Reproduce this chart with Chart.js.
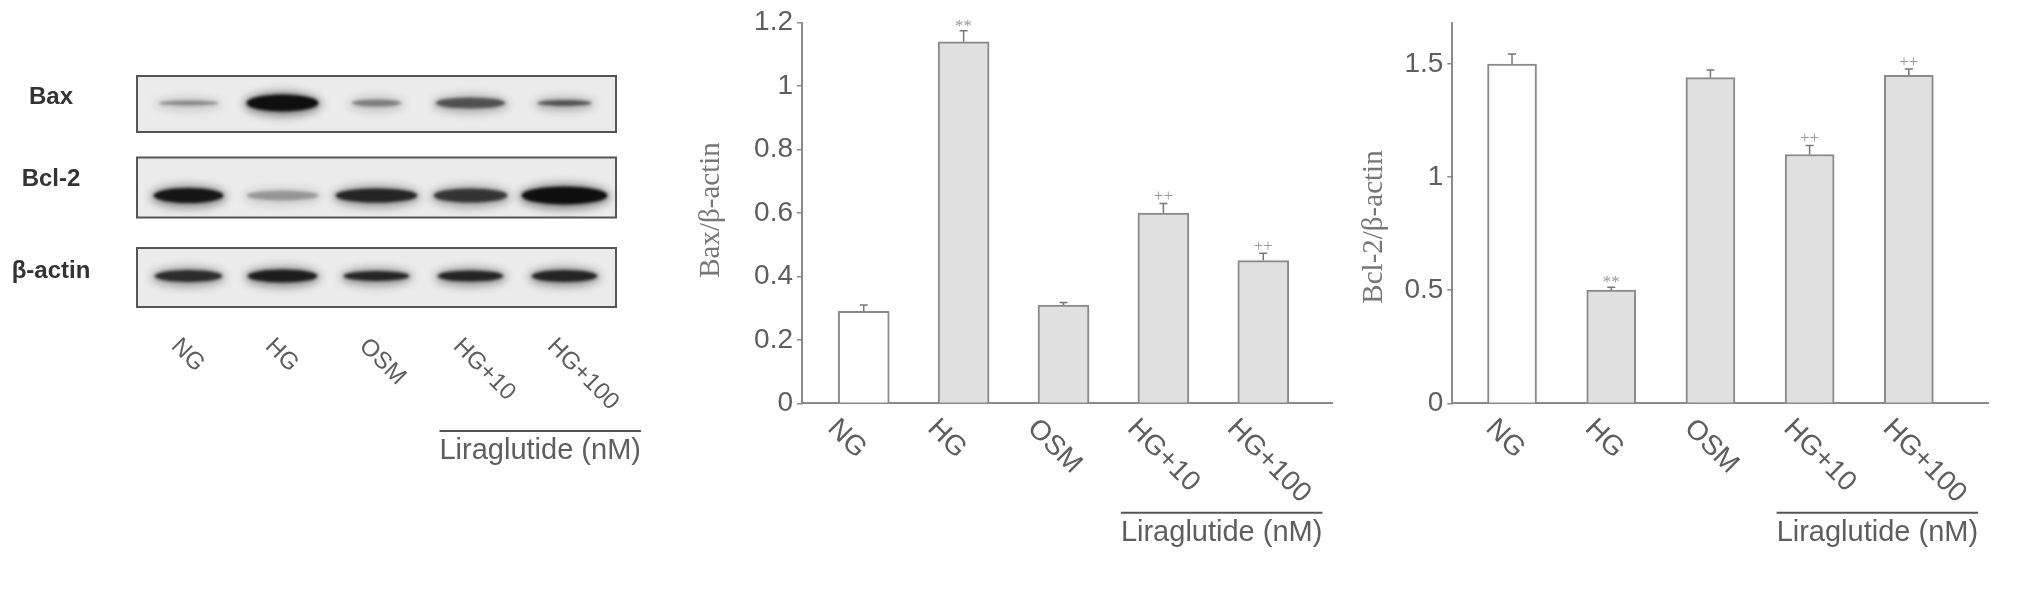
<!DOCTYPE html>
<html>
<head>
<meta charset="utf-8">
<script src="https://cdn.jsdelivr.net/npm/chart.js@4.4.0/dist/chart.umd.min.js"></script>
<style>
  html, body { margin: 0; padding: 0; background: #fff; }
  body { width: 2031px; height: 591px; position: relative; overflow: hidden; }
  canvas { position: absolute; top: 0; }
</style>
</head>
<body>
<canvas id="blotChart" width="660" height="591" style="left:0px"></canvas>
<canvas id="baxChart" width="660" height="591" style="left:690px"></canvas>
<canvas id="bcl2Chart" width="681" height="591" style="left:1350px"></canvas>
<script>
// groups on every panel
const groups = ["NG", "HG", "OSM", "HG+10", "HG+100"];
const treatedLabel = "Liraglutide (nM)";
const treatedFrom = 3; // HG+10 and HG+100

// Bax / beta-actin
const baxMean = [0.29, 1.14, 0.31, 0.60, 0.45];
const baxSem = [0.02, 0.035, 0.008, 0.03, 0.023];
const baxMarks = ["", "**", "", "++", "++"];
const baxTicks = [0, 0.2, 0.4, 0.6, 0.8, 1, 1.2];

// Bcl-2 / beta-actin
const bcl2Mean = [1.50, 0.50, 1.44, 1.10, 1.45];
const bcl2Sem = [0.044, 0.013, 0.033, 0.04, 0.028];
const bcl2Marks = ["", "**", "", "++", "++"];
const bcl2Ticks = [0, 0.5, 1, 1.5];

// western blot, band darkness 0..1
const blotRows = ["Bax", "Bcl-2", "β-actin"];
const baxBand = [0.35, 1.0, 0.4, 0.6, 0.6];
const bcl2Band = [0.95, 0.3, 0.85, 0.75, 1.0];
const actinBand = [0.8, 0.9, 0.85, 0.85, 0.85];

const SANS = "'Liberation Sans', Arial, sans-serif";
const SERIF = "'Liberation Serif', 'Times New Roman', serif";
const TEXT = "#5e5e5e";
const AXIS = "#8a8a8a";

// blot look (sizes are drawing style, not data)
const blotStyle = {
  frame: [[-27, 29], [-32, 28], [-28, 31]],
  bandDy: [0, 6, 0],
  labelDy: [-6, -10, -5],
  bandW: [[60, 72, 50, 70, 54], [70, 72, 82, 74, 86], [68, 70, 66, 66, 66]],
  bandH: [[5, 17, 7, 11, 6], [15, 10, 14, 14, 18], [12, 13, 10, 11, 12]]
};

function groupLabels(cfg) {
  return {
    id: "groupLabels",
    afterDraw(chart) {
      const ctx = chart.ctx;
      const xs = chart.scales.x;
      ctx.save();
      ctx.fillStyle = TEXT;
      ctx.font = cfg.size + "px " + SANS;
      groups.forEach((g, i) => {
        ctx.save();
        ctx.translate(xs.getPixelForValue(i) + cfg.dx, cfg.top);
        ctx.rotate(Math.PI / 4);
        ctx.textAlign = "left";
        ctx.textBaseline = "alphabetic";
        ctx.fillText(g, 0, cfg.size * 0.716);
        ctx.restore();
      });
      // bracket over the liraglutide groups
      ctx.font = "29px " + SANS;
      const w = ctx.measureText(treatedLabel).width;
      const x0 = xs.getPixelForValue(treatedFrom) + cfg.bracketDx;
      ctx.strokeStyle = "#555";
      ctx.lineWidth = 2;
      ctx.beginPath();
      ctx.moveTo(x0, cfg.lineY);
      ctx.lineTo(x0 + w, cfg.lineY);
      ctx.stroke();
      ctx.textAlign = "left";
      ctx.textBaseline = "alphabetic";
      ctx.fillText(treatedLabel, x0, cfg.lineY + 28);
      // y-axis title, rotated
      if (cfg.yTitle) {
        ctx.save();
        ctx.translate(cfg.yTitle.x, cfg.yTitle.y);
        ctx.rotate(-Math.PI / 2);
        ctx.fillStyle = "#777";
        ctx.font = "29px " + SERIF;
        ctx.textAlign = "center";
        ctx.textBaseline = "middle";
        ctx.fillText(cfg.yTitle.text, 0, 0);
        ctx.restore();
      }
      ctx.restore();
    }
  };
}

const errorBars = {
  id: "errorBars",
  afterDatasetsDraw(chart) {
    const ctx = chart.ctx;
    const y = chart.scales.y;
    const ds = chart.data.datasets[0];
    const meta = chart.getDatasetMeta(0);
    ctx.save();
    meta.data.forEach((bar, i) => {
      const top = y.getPixelForValue(ds.mean[i] + ds.err[i]);
      ctx.strokeStyle = "#777";
      ctx.lineWidth = 1.5;
      ctx.beginPath();
      ctx.moveTo(bar.x, bar.y);
      ctx.lineTo(bar.x, top);
      ctx.moveTo(bar.x - 4, top);
      ctx.lineTo(bar.x + 4, top);
      ctx.stroke();
      if (ds.marks[i]) {
        ctx.fillStyle = "#999";
        ctx.font = "17px " + SERIF;
        ctx.textAlign = "center";
        ctx.textBaseline = "alphabetic";
        ctx.fillText(ds.marks[i], bar.x, top - (ds.marks[i] === "**" ? 0 : 2));
      }
    });
    ctx.restore();
  }
};

function barChart(id, mean, sem, marks, ticks, opt) {
  new Chart(document.getElementById(id), {
    type: "bar",
    data: {
      datasets: [{
        data: mean.map((v, i) => ({ x: i, y: v })),
        mean: mean,
        err: sem,
        marks: marks,
        backgroundColor: groups.map((g, i) => (i === 0 ? "#ffffff" : "#e0e0e0")),
        borderColor: AXIS,
        borderWidth: 2,
        barThickness: opt.barWidth
      }]
    },
    options: {
      responsive: false,
      animation: false,
      layout: { padding: { left: 0, right: opt.padRight, top: opt.top, bottom: 591 - opt.bottom } },
      plugins: { legend: { display: false }, tooltip: { enabled: false } },
      scales: {
        x: {
          type: "linear",
          offset: false,
          min: opt.xMin,
          max: opt.xMax,
          afterFit: (s) => { s.height = 0; },
          ticks: { display: false },
          grid: { display: false, offset: false },
          border: { color: AXIS, width: 2 }
        },
        y: {
          type: "linear",
          min: 0,
          max: opt.yMax,
          afterBuildTicks: (axis) => { axis.ticks = ticks.map((v) => ({ value: v })); },
          afterFit: (s) => { s.width = opt.axisWidth; },
          ticks: { callback: (v) => String(v), font: { family: SANS, size: 28 }, color: TEXT, padding: 4 },
          grid: { drawOnChartArea: false, drawTicks: true, tickLength: 5, color: AXIS, lineWidth: 1.5 },
          border: { color: AXIS, width: 2 }
        }
      }
    },
    plugins: [errorBars, groupLabels({
      size: 28, dx: opt.labelDx, top: opt.bottom + 12, bracketDx: opt.bracketDx, lineY: 512.7,
      yTitle: { text: opt.title, x: opt.titleX, y: opt.titleY }
    })]
  });
}

barChart("baxChart", baxMean, baxSem, baxMarks, baxTicks, {
  title: "Bax/β-actin", yMax: 1.2, xMin: -0.618, xMax: 4.688,
  axisWidth: 112, padRight: 18, top: 22.7, bottom: 403.3, titleX: 21, titleY: 210,
  barWidth: 51, labelDx: -23, bracketDx: -42.5
});

barChart("bcl2Chart", bcl2Mean, bcl2Sem, bcl2Marks, bcl2Ticks, {
  title: "Bcl-2/β-actin", yMax: 1.68, xMin: -0.602, xMax: 4.798,
  axisWidth: 102.3, padRight: 43, top: 23.3, bottom: 403.3, titleX: 24, titleY: 227,
  barWidth: 49, labelDx: -13, bracketDx: -33
});

// western blot panel: lanes on x, rows on y
const blotPlugin = {
  id: "blot",
  beforeDatasetsDraw(chart) {
    const ctx = chart.ctx;
    const area = chart.chartArea;
    const bands = [baxBand, bcl2Band, actinBand];
    ctx.save();
    blotRows.forEach((name, r) => {
      const meta = chart.getDatasetMeta(r);
      const rowY = chart.scales.y.getPixelForValue(r);
      const fr = blotStyle.frame[r];
      // membrane strip
      ctx.fillStyle = "#ebebeb";
      ctx.fillRect(area.left, rowY + fr[0], area.right - area.left, fr[1] - fr[0]);
      // bands
      meta.data.forEach((pt, i) => {
        const d = bands[r][i];
        const w = blotStyle.bandW[r][i];
        const h = blotStyle.bandH[r][i];
        const cy = pt.y + blotStyle.bandDy[r];
        ctx.fillStyle = "rgba(15,15,15," + (d * 0.45) + ")";
        ctx.filter = "blur(4px)";
        ctx.beginPath();
        ctx.ellipse(pt.x, cy + 1, w / 2 + 3, h / 2 + 4, 0, 0, Math.PI * 2);
        ctx.fill();
        ctx.fillStyle = "rgba(15,15,15," + d + ")";
        ctx.filter = "blur(1.8px)";
        ctx.beginPath();
        ctx.ellipse(pt.x, cy, w / 2, h / 2, 0, 0, Math.PI * 2);
        ctx.fill();
      });
      ctx.filter = "none";
      ctx.strokeStyle = "#555";
      ctx.lineWidth = 2;
      ctx.strokeRect(area.left, rowY + fr[0], area.right - area.left, fr[1] - fr[0]);
      // row label
      ctx.fillStyle = "#333";
      ctx.font = "bold 24px " + SANS;
      ctx.textAlign = "center";
      ctx.textBaseline = "middle";
      ctx.fillText(name, 51, rowY + blotStyle.labelDy[r]);
    });
    ctx.restore();
  }
};

new Chart(document.getElementById("blotChart"), {
  type: "scatter",
  data: {
    datasets: blotRows.map((name, r) => ({
      label: name,
      data: groups.map((g, i) => ({ x: i, y: r })),
      pointRadius: 0
    }))
  },
  options: {
    responsive: false,
    animation: false,
    layout: { padding: { left: 137, right: 44, top: 68.4, bottom: 280.4 } },
    plugins: { legend: { display: false }, tooltip: { enabled: false } },
    scales: {
      x: { type: "linear", display: false, min: -0.548, max: 4.548 },
      y: { type: "linear", display: false, min: -0.4, max: 2.4, reverse: true }
    }
  },
  plugins: [blotPlugin, groupLabels({ size: 24, dx: -6, top: 335, bracketDx: -31, lineY: 431 })]
});
</script>
</body>
</html>
